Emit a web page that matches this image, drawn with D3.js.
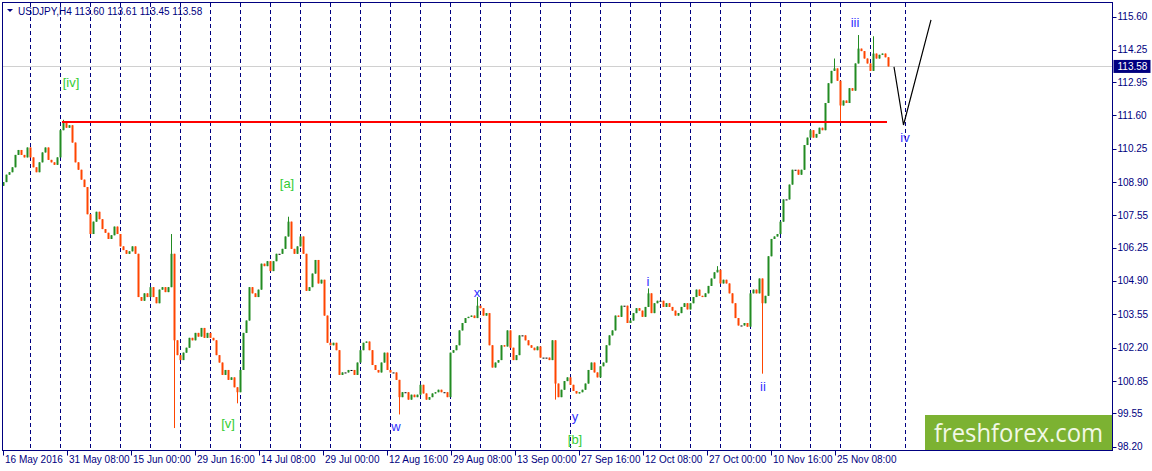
<!DOCTYPE html>
<html lang="en">
<head>
<meta charset="UTF-8">
<title>USDJPY H4</title>
<script src="https://d3js.org/d3.v7.min.js"></script>
<style>
  html, body { margin: 0; padding: 0; background: #fff; }
  svg { display: block; }
  text { font-family: "Liberation Sans", Arial, sans-serif; }
  .axis text { fill: #000080; font-size: 10px; }
  .wave { font-size: 13px; }
</style>
</head>
<body>
<svg width="1152" height="471"></svg>
<script>
// ---- data ----
const symbol = "USDJPY,H4";
const lastOHLC = [113.60, 113.61, 113.45, 113.58];
const barsPerCandle = 3;
const firstOpen = 108.75;
const closes = [
  108.9, 109.2, 109.3, 109.5, 110.0, 110.2, 110.0, 109.9, 110.3, 109.9,
  109.5, 109.3, 109.7, 110.1, 110.3, 109.8, 109.7, 109.6, 109.9, 111.0,
  111.3, 111.1, 111.2, 110.5, 109.7, 109.4, 109.0, 108.7, 107.6, 106.8,
  107.3, 107.7, 107.4, 107.0, 106.85, 106.6, 106.75, 107.1, 106.8, 106.3,
  106.15, 106.0, 106.1, 106.3, 106.0, 104.25, 104.1, 104.4, 104.25, 104.65,
  104.25, 104.0, 104.55, 104.65, 104.45, 104.65, 106.0, 102.5, 101.9, 101.7,
  102.0, 102.2, 102.6, 102.5, 102.8, 102.65, 103.0, 102.6, 102.8, 102.6,
  102.5, 101.9, 101.6, 101.1, 101.3, 100.9, 101.0, 100.6, 100.4, 101.3,
  102.8, 103.3, 104.65, 104.4, 104.25, 104.55, 105.6, 105.5, 105.7, 105.3,
  105.7, 106.0, 106.0, 106.2, 106.7, 107.3, 106.2, 106.0, 106.3, 106.7,
  106.0, 104.5, 104.65, 105.2, 105.75, 104.8, 104.95, 103.5, 102.4, 102.3,
  102.4, 102.1, 101.1, 101.2, 101.2, 101.3, 101.3, 101.1, 101.6, 102.1,
  102.4, 102.45, 102.1, 101.5, 101.3, 101.2, 101.6, 102.0, 101.3, 101.2,
  101.2, 100.9, 100.2, 100.4, 100.4, 100.1, 100.3, 100.2, 100.3, 100.7,
  100.35, 100.1, 100.2, 100.35, 100.4, 100.5, 100.4, 100.4, 100.2, 102.0,
  102.1, 102.3, 102.9, 103.2, 103.4, 103.45, 103.5, 103.4, 103.9, 103.8,
  103.5, 103.6, 102.3, 101.4, 101.6, 101.7, 102.3, 102.25, 102.9, 102.2,
  101.7, 101.9, 102.7, 102.7, 102.5, 102.3, 102.2, 102.1, 102.25, 101.8,
  101.8, 101.8, 101.7, 102.5, 100.75, 100.2, 100.5, 100.85, 101.0, 100.7,
  100.45, 100.35, 100.4, 100.5, 100.75, 101.3, 101.6, 101.2, 101.0, 101.45,
  101.6, 102.3, 102.7, 102.9, 103.5, 103.45, 103.9, 103.9, 103.2, 103.3,
  103.6, 103.8, 103.7, 103.45, 103.85, 104.4, 103.6, 104.0, 104.1, 104.1,
  103.85, 104.0, 103.85, 103.7, 103.5, 103.6, 103.85, 104.0, 103.75, 104.0,
  104.25, 104.55, 104.3, 104.25, 104.4, 104.7, 105.0, 105.25, 105.35, 104.8,
  104.95, 104.8, 104.4, 104.0, 103.4, 103.1, 103.1, 103.2, 103.05, 104.4,
  104.55, 104.4, 105.0, 104.0, 104.3, 105.9, 106.6, 106.7, 106.8, 107.3,
  108.2, 108.2, 108.8, 109.4, 109.4, 109.2, 109.4, 110.4, 110.7, 111.0,
  110.7, 110.85, 111.1, 111.0, 112.1, 112.9, 113.4, 113.5, 113.0, 112.0,
  112.2, 112.1, 112.7, 112.6, 113.7, 114.3, 114.2, 113.9, 113.7, 113.4,
  114.1, 113.9, 114.05, 114.1, 113.95, 113.58
];
// [candle index, high, low] for the visible long wicks
const wickExtremes = [
  [20, 111.42, null], [56, 106.8, null], [57, null, 98.95], [78, null, 99.95],
  [95, 107.5, null], [132, null, 99.5], [158, 104.25, null], [184, null, 100.1],
  [215, 104.6, null], [238, 105.5, null], [253, null, 101.15], [277, 113.9, null],
  [279, null, 111.35], [285, 114.85, null], [290, 114.8, null]
];
const priceTicks = [115.60, 114.25, 112.95, 111.60, 110.25, 108.90, 107.55,
  106.25, 104.90, 103.55, 102.20, 100.85, 99.55, 98.20];
const dateLabels = ["16 May 2016", "31 May 08:00", "15 Jun 00:00", "29 Jun 16:00",
  "14 Jul 08:00", "29 Jul 00:00", "12 Aug 16:00", "29 Aug 08:00", "13 Sep 00:00",
  "27 Sep 16:00", "12 Oct 08:00", "27 Oct 00:00", "10 Nov 16:00", "25 Nov 08:00"];
const barsPerDateLabel = 64;
const weekSeparatorBars = d3.range(26.6, 880, 30).concat([902]);
const resistance = { price: 111.33, from: 59, to: 884 };
const forecastPath = [[891, 113.56], [900.5, 111.21], [928, 115.46]];
const bidPrice = 113.58;
const waveLabels = [
  { text: "[iv]", bar: 68, price: 112.95, kind: "major" },
  { text: "[a]", bar: 284, price: 108.86, kind: "major" },
  { text: "[v]", bar: 225, price: 99.12, kind: "major" },
  { text: "[b]", bar: 572, price: 98.47, kind: "major" },
  { text: "w", bar: 393, price: 99.03, kind: "minor" },
  { text: "x", bar: 474, price: 104.45, kind: "minor" },
  { text: "y", bar: 572, price: 99.4, kind: "minor" },
  { text: "i", bar: 645, price: 104.86, kind: "minor" },
  { text: "ii", bar: 760, price: 100.65, kind: "minor" },
  { text: "iii", bar: 852, price: 115.34, kind: "minor" },
  { text: "iv", bar: 902, price: 110.69, kind: "minor" }
];

// ---- layout ----
const svg = d3.select("svg");
const pL = 2.5, pT = 2.5, pR = 1112.5, pB = 450.5;
const navy = "#000080", upColor = "#228B22", downColor = "#FF4500";

const x = d3.scaleLinear().domain([0, 1109]).range([3, 1112]);
const y = d3.scaleLinear().domain([98.2, 115.6]).range([446.6, 16.5]);

const candles = closes.map((c, i) => {
  const open = i === 0 ? firstOpen : closes[i - 1];
  return { bar: i * barsPerCandle, open, close: c,
           high: Math.max(open, c), low: Math.min(open, c) };
});
wickExtremes.forEach(([i, h, l]) => {
  if (h != null) candles[i].high = h;
  if (l != null) candles[i].low = l;
});

svg.append("defs").append("clipPath").attr("id", "plot")
  .append("rect").attr("x", pL).attr("y", pT)
  .attr("width", pR - pL).attr("height", pB - pT);

const plot = svg.append("g").attr("clip-path", "url(#plot)");

// week separators
plot.append("g").selectAll("line").data(weekSeparatorBars).join("line")
  .attr("x1", d => Math.round(x(d)) + 0.5).attr("x2", d => Math.round(x(d)) + 0.5)
  .attr("y1", pT).attr("y2", pB)
  .attr("stroke", navy).attr("stroke-width", 1).attr("stroke-dasharray", "4,3")
  .attr("shape-rendering", "crispEdges");

// bid line
plot.append("line")
  .attr("x1", pL).attr("x2", pR)
  .attr("y1", Math.round(y(bidPrice)) + 0.5).attr("y2", Math.round(y(bidPrice)) + 0.5)
  .attr("stroke", "#d0d0d0");

// candles
const cg = plot.append("g");
const colorOf = d => d.close > d.open ? upColor : d.close < d.open ? downColor : "#000";
cg.selectAll("line").data(candles).join("line")
  .attr("x1", d => x(d.bar) + 0.5).attr("x2", d => x(d.bar) + 0.5)
  .attr("y1", d => y(d.high)).attr("y2", d => y(d.low))
  .attr("stroke", colorOf).attr("stroke-width", 1);
cg.selectAll("rect").data(candles).join("rect")
  .attr("x", d => x(d.bar) - 0.5).attr("width", 2)
  .attr("y", d => y(Math.max(d.open, d.close)))
  .attr("height", d => Math.max(1, Math.abs(y(d.open) - y(d.close))))
  .attr("fill", colorOf);

// resistance level
plot.append("line")
  .attr("x1", x(resistance.from)).attr("x2", x(resistance.to))
  .attr("y1", y(resistance.price)).attr("y2", y(resistance.price))
  .attr("stroke", "#ff0000").attr("stroke-width", 2);

// forecast
plot.append("path")
  .attr("d", d3.line().x(d => x(d[0])).y(d => y(d[1]))(forecastPath))
  .attr("fill", "none").attr("stroke", "#000").attr("stroke-width", 1.2);

// wave labels
plot.append("g").selectAll("text").data(waveLabels).join("text")
  .attr("class", "wave")
  .attr("x", d => x(d.bar)).attr("y", d => y(d.price))
  .attr("text-anchor", "middle").attr("dominant-baseline", "central")
  .attr("fill", d => d.kind === "major" ? "#33cc33" : "#3030ff")
  .text(d => d.text);

// watermark
const wm = svg.append("g");
wm.append("rect").attr("x", 925).attr("y", 415).attr("width", pR - 925).attr("height", pB - 415)
  .attr("fill", "#7cb232");
wm.append("text").attr("x", 1018.5).attr("y", 442)
  .attr("text-anchor", "middle").attr("fill", "#f2f8e6")
  .attr("font-size", 26).attr("textLength", 169).attr("lengthAdjust", "spacingAndGlyphs")
  .style("font-family", "'Open Sans', 'Noto Sans', sans-serif")
  .text("freshforex.com");

// frame
svg.append("rect").attr("x", pL).attr("y", pT)
  .attr("width", pR - pL).attr("height", pB - pT)
  .attr("fill", "none").attr("stroke", navy).attr("stroke-width", 1);

// right price axis
const yAxis = svg.append("g").attr("class", "axis");
yAxis.selectAll("line").data(priceTicks).join("line")
  .attr("x1", pR).attr("x2", pR + 4)
  .attr("y1", d => Math.round(y(d)) + 0.5).attr("y2", d => Math.round(y(d)) + 0.5)
  .attr("stroke", navy);
yAxis.selectAll("text").data(priceTicks).join("text")
  .attr("x", pR + 5).attr("y", d => y(d) + 3.5)
  .text(d => d.toFixed(2));

// current price box
const bidY = y(bidPrice);
svg.append("rect").attr("x", pR + 1).attr("y", bidY - 6.5)
  .attr("width", 37).attr("height", 13).attr("fill", navy);
svg.append("text").attr("x", pR + 5).attr("y", bidY + 3.5)
  .attr("fill", "#fff").attr("font-size", 10).text(bidPrice.toFixed(2));

// bottom time axis
const xAxis = svg.append("g").attr("class", "axis");
xAxis.selectAll("line").data(dateLabels).join("line")
  .attr("x1", (d, i) => x(i * barsPerDateLabel) + 0.5)
  .attr("x2", (d, i) => x(i * barsPerDateLabel) + 0.5)
  .attr("y1", pB).attr("y2", pB + 5)
  .attr("stroke", navy);
xAxis.selectAll("text").data(dateLabels).join("text")
  .attr("x", (d, i) => x(i * barsPerDateLabel) + 2)
  .attr("y", 463)
  .text(d => d);

// header
svg.append("path").attr("d", "M7,9 L13,9 L10,12 Z").attr("fill", navy);
svg.append("text").attr("x", 18).attr("y", 15)
  .attr("fill", navy).attr("font-size", 10)
  .text(symbol + "  " + lastOHLC.map(v => v.toFixed(2)).join(" "));
</script>
</body>
</html>
